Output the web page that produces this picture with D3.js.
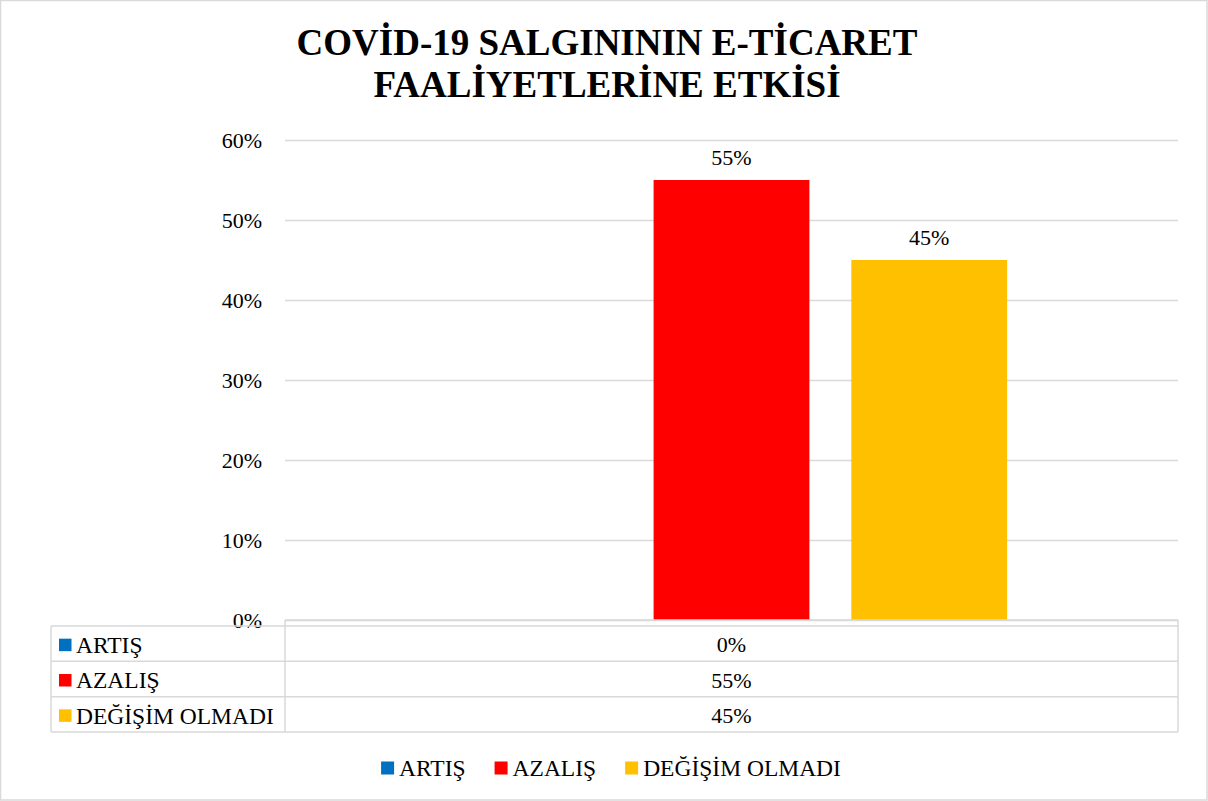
<!DOCTYPE html>
<html>
<head>
<meta charset="utf-8">
<script src="https://cdn.jsdelivr.net/npm/d3@7/dist/d3.min.js"></script>
</head>
<body style="margin:0;background:#fff">
<svg id="chart" width="1208" height="801"></svg>
<script>
const titleLines = ["COVİD-19 SALGINININ E-TİCARET", "FAALİYETLERİNE ETKİSİ"];
const categories = [""];
const seriesNames = ["ARTIŞ", "AZALIŞ", "DEĞİŞİM OLMADI"];
const seriesValues = [0, 0.55, 0.45];
const seriesColors = ["#0070C0", "#FF0000", "#FFC000"];
const yTicks = [0, 0.1, 0.2, 0.3, 0.4, 0.5, 0.6];

const FONT = "'Liberation Serif'";
const svg = d3.select("#chart");
const W = 1208, H = 801;
const plot = { left: 285, right: 1178, top: 140, bottom: 620 };
const gridColor = "#d9d9d9";
const setFont = (sel, size, weight) => sel
  .style("font-family", FONT, "important")
  .style("font-size", size + "px", "important")
  .style("font-weight", weight || "normal", "important");

// outer border
svg.append("rect").attr("x", 0.5).attr("y", 0.5).attr("width", W - 1.5).attr("height", H - 1.5)
  .attr("fill", "#fff").attr("stroke", gridColor).attr("stroke-width", 1.5);

// title
svg.append("g").selectAll("text").data(titleLines).join("text")
  .attr("x", 607).attr("y", (d, i) => 55 + i * 42)
  .attr("text-anchor", "middle")
  .call(setFont, 37, "bold")
  .text(d => d);

const data = seriesNames.map((s, i) => ({ name: s, value: seriesValues[i], color: seriesColors[i] }));

const y = d3.scaleLinear().domain([0, 0.6]).range([plot.bottom, plot.top]);
const x0 = d3.scaleBand().domain(categories).range([plot.left, plot.right]).paddingInner(0).paddingOuter(0.31);
const x1 = d3.scaleBand().domain(seriesNames).range([0, x0.bandwidth()]).paddingInner(0.212).paddingOuter(0);

// gridlines + y axis
const yAxis = d3.axisLeft(y).tickValues(yTicks).tickFormat(d3.format(".0%"))
  .tickSizeInner(-(plot.right - plot.left)).tickSizeOuter(0).tickPadding(23);
const gy = svg.append("g").attr("transform", `translate(${plot.left},0)`).call(yAxis);
gy.attr("font-family", FONT).attr("font-size", 22);
gy.select(".domain").remove();
gy.selectAll(".tick line").attr("stroke", gridColor).attr("stroke-width", 1.3);
gy.selectAll(".tick text").call(setFont, 22).attr("fill", "#000");

// bars
const gBars = svg.append("g");
categories.forEach(cat => {
  gBars.selectAll("rect.bar").data(data).join("rect").attr("class", "bar")
    .attr("x", d => x0(cat) + x1(d.name))
    .attr("width", x1.bandwidth())
    .attr("y", d => y(d.value))
    .attr("height", d => y(0) - y(d.value))
    .attr("fill", d => d.color);
  gBars.selectAll("text.lbl").data(data.filter(d => d.value > 0)).join("text").attr("class", "lbl")
    .attr("x", d => x0(cat) + x1(d.name) + x1.bandwidth() / 2)
    .attr("y", d => y(d.value) - 15)
    .attr("text-anchor", "middle")
    .call(setFont, 22)
    .text(d => d3.format(".0%")(d.value));
});

// data table
const tbl = { left: 51, top: 626, bottom: 732 };
const rowScale = d3.scaleBand().domain(seriesNames).range([tbl.top, tbl.bottom]);
const gT = svg.append("g");
const lineStyle = sel => sel.attr("stroke", gridColor).attr("stroke-width", 1.5).attr("fill", "none");
const hYs = seriesNames.map(s => rowScale(s)).concat([tbl.bottom]);
gT.selectAll("line.h").data(hYs).join("line").attr("class", "h")
  .attr("x1", tbl.left).attr("x2", plot.right).attr("y1", d => d).attr("y2", d => d).call(lineStyle);
gT.append("line").attr("x1", tbl.left).attr("x2", tbl.left).attr("y1", tbl.top).attr("y2", tbl.bottom).call(lineStyle);
gT.append("line").attr("x1", plot.left).attr("x2", plot.left).attr("y1", plot.bottom).attr("y2", tbl.bottom).call(lineStyle);
gT.append("line").attr("x1", plot.right).attr("x2", plot.right).attr("y1", plot.bottom).attr("y2", tbl.bottom).call(lineStyle);
gT.append("line").attr("x1", plot.left).attr("x2", plot.right).attr("y1", plot.bottom).attr("y2", plot.bottom).call(lineStyle);

const rows = gT.selectAll("g.row").data(data).join("g").attr("class", "row")
  .attr("transform", d => `translate(0,${rowScale(d.name) + rowScale.bandwidth() / 2 + 1})`);
rows.append("rect").attr("x", 59).attr("y", -6).attr("width", 12.5).attr("height", 12.5).attr("fill", d => d.color);
rows.append("text").attr("x", 76).attr("dy", "0.35em").call(setFont, 23.5).text(d => d.name);
categories.forEach(cat => {
  rows.append("text").attr("x", x0(cat) + x0.bandwidth() / 2).attr("dy", "0.35em")
    .attr("text-anchor", "middle").call(setFont, 22)
    .text(d => d3.format(".0%")(d.value));
});

// legend
const gL = svg.append("g");
const items = gL.selectAll("g.item").data(data).join("g").attr("class", "item");
items.append("rect").attr("x", 0).attr("y", -6.5).attr("width", 13).attr("height", 13).attr("fill", d => d.color);
items.append("text").attr("x", 18).attr("dy", "0.35em").call(setFont, 23.5).text(d => d.name);
const gap = 29;
const widths = [];
items.each(function () {
  widths.push(18 + this.querySelector("text").getComputedTextLength());
});
const total = d3.sum(widths) + gap * (widths.length - 1);
let start = 611 - total / 2;
items.attr("transform", (d, i) => {
  const tx = start;
  start += widths[i] + gap;
  return `translate(${tx},768)`;
});
</script>
</body>
</html>
